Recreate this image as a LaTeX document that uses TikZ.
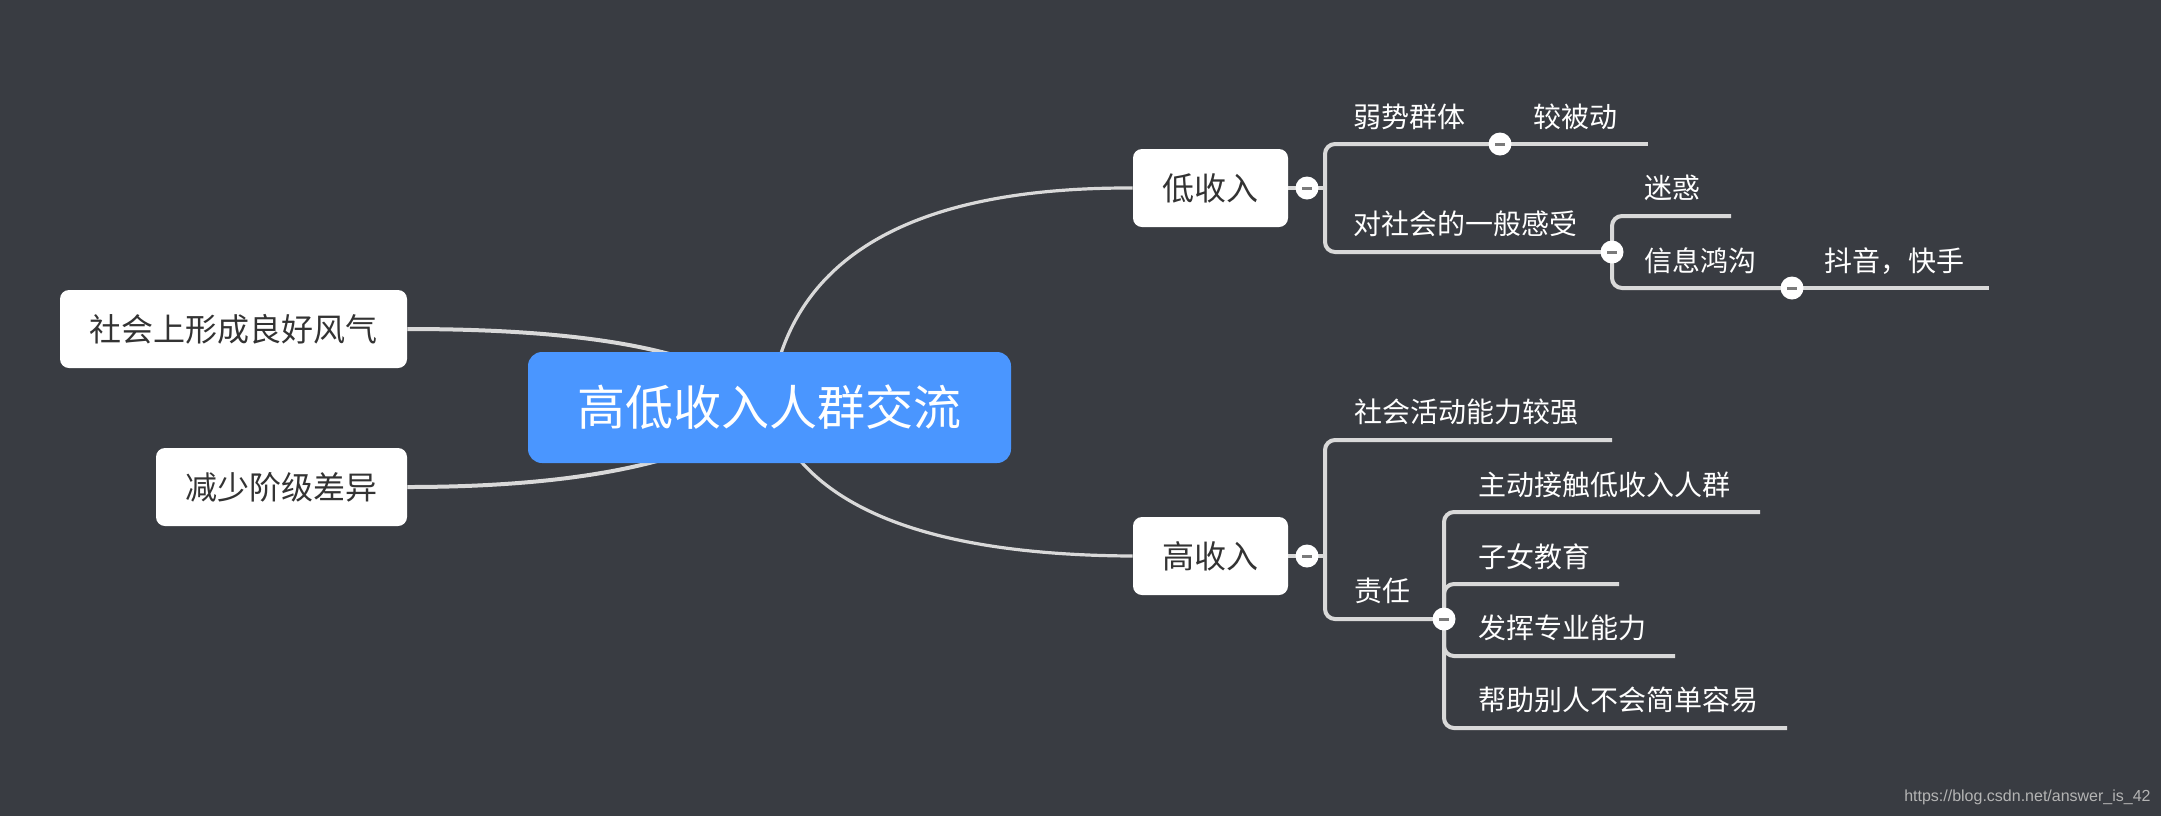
\documentclass[tikz,border=0pt]{standalone}
\usepackage{fontspec}
\setmainfont{Noto Sans CJK SC}
\newfontfamily\wmfont{Liberation Sans}
\usetikzlibrary{backgrounds}
\definecolor{bg}{HTML}{393C42}
\definecolor{rootblue}{HTML}{4A96FF}
\definecolor{linegray}{HTML}{D9D9D9}
\definecolor{boxtext}{HTML}{333333}
\definecolor{minusgray}{HTML}{7A7A7A}
\definecolor{wmgray}{HTML}{B4B4B4}
\begin{document}
\begin{tikzpicture}[x=0.5pt,y=-0.5pt,
 rootbox/.style={fill=rootblue, rounded corners=7pt, minimum width=241.5pt, minimum height=55.5pt, text=white, font=\fontsize{24pt}{28pt}\selectfont, inner sep=0pt},
 childbox/.style={fill=white, rounded corners=4.5pt, minimum height=39pt, text=boxtext, font=\fontsize{16pt}{19pt}\selectfont, inner sep=0pt},
 leaf/.style={anchor=west, text=white, font=\fontsize{14pt}{17pt}\selectfont, inner sep=0pt, text height=12.3pt, text depth=1.7pt},
 fold/.style={circle, fill=white, minimum size=11.5pt, inner sep=0pt, path picture={\fill[minusgray] ([xshift=-2.5pt,yshift=-0.75pt]path picture bounding box.center) rectangle ([xshift=2.5pt,yshift=0.75pt]path picture bounding box.center);}},
 branch/.style={draw=linegray, line width=2pt, rounded corners=5pt},
 curveR/.style={draw=linegray, line width=1.6pt},
 curveL/.style={draw=linegray, line width=2pt},
]
\useasboundingbox (0,0) rectangle (2161,816);
% main nodes
\node[rootbox] (root) at (769.5,407.5) {高低收入人群交流};
\node[childbox, minimum width=77.5pt] (low) at (1210.5,188) {低收入};
\node[childbox, minimum width=77.5pt] (high) at (1210.5,556) {高收入};
\node[childbox, minimum width=173.5pt] (good) at (233.5,329) {社会上形成良好风气};
\node[childbox, minimum width=125.5pt] (less) at (281.5,487) {减少阶级差异};
% fold circles
\node[fold] (fl) at (1307,188) {};
\node[fold] (fw) at (1500,144) {};
\node[fold] (ff) at (1612,252) {};
\node[fold] (fi) at (1792,288) {};
\node[fold] (fh) at (1307,556) {};
\node[fold] (fr) at (1444,619) {};
% junctions and free ends
\coordinate (jl) at (1325,188);
\coordinate (jh) at (1325,556);
\coordinate (e1) at (1648,144);
\coordinate (e2) at (1731,216);
\coordinate (e3) at (1989,288);
\coordinate (e4) at (1612,440);
\coordinate (e5) at (1760,512);
\coordinate (e6) at (1619,584);
\coordinate (e7) at (1675,656);
\coordinate (e8) at (1787,728);
% texts
\node[leaf] (t1) at (1353,117) {弱势群体};
\node[leaf] (t2) at (1533,117) {较被动};
\node[leaf] (t3) at (1353,224) {对社会的一般感受};
\node[leaf] (t4) at (1644,188) {迷惑};
\node[leaf] (t5) at (1644,261) {信息鸿沟};
\node[leaf] (t6) at (1824,261) {抖音，快手};
\node[leaf] (t7) at (1354,412) {社会活动能力较强};
\node[leaf] (t8) at (1354,591) {责任};
\node[leaf] (t9) at (1478,485) {主动接触低收入人群};
\node[leaf] (t10) at (1478,557) {子女教育};
\node[leaf] (t11) at (1478,628) {发挥专业能力};
\node[leaf] (t12) at (1478,700) {帮助别人不会简单容易};
\node[anchor=east, text=wmgray, font=\wmfont\fontsize{8pt}{9.6pt}\selectfont, inner sep=0pt] (wm) at (2151,797) {https://blog.csdn.net/answer\_is\_42};
\begin{scope}[on background layer]
\fill[bg] (0,0) rectangle (2161,816);
% curves from root
\draw[curveR] (root.center) .. controls (784.7,260.7) and (905.7,187) .. (low.west);
\draw[curveR] (root.center) .. controls (803.3,506) and (924.3,555) .. (high.west);
\draw[curveL] (good.east) .. controls (605,329) and (726,354.7) .. (root.center);
\draw[curveL] (less.east) .. controls (588.3,487) and (709.3,459.3) .. (root.center);
% low branch
\draw[branch] (low.east) -- (jl);
\draw[branch] (jl) -- (jl |- fw.center) -- (fw.center);
\draw[branch] (fw.center) -- (e1);
\draw[branch] (jl) -- (jl |- ff.center) -- (ff.center);
\draw[branch] (ff.center) -- (ff.center |- e2) -- (e2);
\draw[branch] (ff.center) -- (ff.center |- fi.center) -- (fi.center);
\draw[branch] (fi.center) -- (e3);
% high branch
\draw[branch] (high.east) -- (jh);
\draw[branch] (jh) -- (jh |- e4) -- (e4);
\draw[branch] (jh) -- (jh |- fr.center) -- (fr.center);
\draw[branch] (fr.center) -- (fr.center |- e5) -- (e5);
\draw[branch] (fr.center) -- (fr.center |- e6) -- (e6);
\draw[branch] (fr.center) -- (fr.center |- e7) -- (e7);
\draw[branch] (fr.center) -- (fr.center |- e8) -- (e8);
\end{scope}
\end{tikzpicture}
\end{document}
